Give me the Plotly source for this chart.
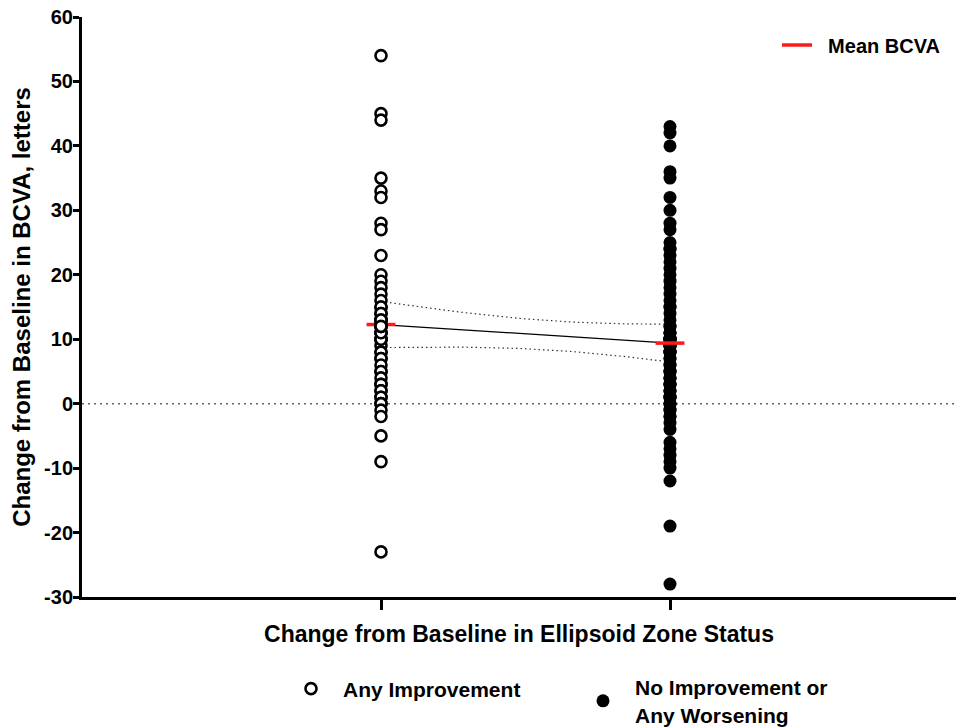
import numpy as np
import plotly.graph_objects as go

# ---------------- data ----------------
categories = ["Any Improvement", "No Improvement or<br>Any Worsening"]
cat_pos = [0, 1]

improve = [54, 45, 44, 35, 33, 32, 28, 27, 23, 20, 19, 18, 17, 16,
           15, 15, 14, 13, 12, 11, 11, 10, 10, 9, 8, 8, 7, 7, 6, 5, 5, 4,
           3, 3, 2, 2, 1, 1, 0, 0, -1, -2, -5, -9, -23,
           10, 11, 12, 12, 13, 13, 14, 13, 12]

no_improve = [43, 42, 40, 36, 35, 32, 30, 28, 27, 25, 24, 24, 23, 22, 21, 20,
              19, 18, 17, 16, 15, 15, 14, 13, 12, 12, 11, 11, 10, 10, 9, 9,
              8, 8, 7, 7, 6, 6, 5, 5, 5, 4, 4, 4, 3, 3, 3, 2, 2, 2, 1, 1, 1,
              0, 0, 0, -1, -1, -2, -2, -3, -4, -6, -7, -8, -9, -10,
              -12, -19, -28,
              8, 9, 9, 10, 10, 11, 8, 9, 10, 10]

y_ticks = [-30, -20, -10, 0, 10, 20, 30, 40, 50, 60]
y_tick_labels = ["-30", "-20", "-10", "0", "10", "20", "30", "40", "50", "60"]
y_range = [-30, 60]
x_range = [-1.0346, 1.9896]

x_title = "Change from Baseline in Ellipsoid Zone Status"
y_title = "Change from Baseline in BCVA, letters"
mean_label = "Mean BCVA"

FONT = "Liberation Sans, Arial, Helvetica, sans-serif"

# ---------------- statistics ----------------
groups = [np.array(improve, float), np.array(no_improve, float)]
means = [g.mean() for g in groups]

x_all = np.concatenate([np.full(len(g), p, float) for g, p in zip(groups, cat_pos)])
y_all = np.concatenate(groups)
slope, intercept = np.polyfit(x_all, y_all, 1)
resid = y_all - (intercept + slope * x_all)
df = len(y_all) - 2
s = np.sqrt((resid ** 2).sum() / df)
xbar = x_all.mean()
sxx = ((x_all - xbar) ** 2).sum()
z = 1.959964
t_crit = z + (z ** 3 + z) / (4 * df) + (5 * z ** 5 + 16 * z ** 3 + 3 * z) / (96 * df ** 2)
xs = np.linspace(cat_pos[0], cat_pos[1], 60)
fit = intercept + slope * xs
half = t_crit * s * np.sqrt(1.0 / len(y_all) + (xs - xbar) ** 2 / sxx)
upper = fit + half
lower = fit - half

mean_half_w = 0.05

fig = go.Figure()

# confidence band (dotted)
for band in (upper, lower):
    fig.add_trace(go.Scatter(x=xs, y=band, mode="lines",
                             line=dict(color="#333333", width=1.2, dash="1.5px,3px"),
                             showlegend=False, hoverinfo="skip"))

# line connecting means
fig.add_trace(go.Scatter(x=cat_pos, y=means, mode="lines",
                         line=dict(color="black", width=1.3),
                         showlegend=False, hoverinfo="skip"))

# left mean (under open circles)
fig.add_trace(go.Scatter(x=[cat_pos[0] - mean_half_w, cat_pos[0] + mean_half_w],
                         y=[means[0], means[0]], mode="lines",
                         line=dict(color="#FF1A1A", width=3.5),
                         name="\u00a0\u00a0" + mean_label, legend="legend2",
                         showlegend=True, hoverinfo="skip"))

# scatter columns
fig.add_trace(go.Scatter(x=[cat_pos[0]] * len(improve), y=improve, mode="markers",
                         marker=dict(symbol="circle", size=11, color="white",
                                     line=dict(color="black", width=2.6)),
                         name=categories[0], legend="legend"))
fig.add_trace(go.Scatter(x=[cat_pos[1]] * len(no_improve), y=no_improve, mode="markers",
                         marker=dict(symbol="circle", size=13, color="black",
                                     line=dict(color="black", width=0)),
                         name=categories[1], legend="legend3"))

# right mean (over filled circles)
fig.add_trace(go.Scatter(x=[cat_pos[1] - mean_half_w, cat_pos[1] + mean_half_w],
                         y=[means[1], means[1]], mode="lines",
                         line=dict(color="#FF1A1A", width=3.5),
                         showlegend=False, hoverinfo="skip"))

# zero reference line
fig.add_shape(type="line", xref="paper", x0=0, x1=1, yref="y", y0=0, y1=0,
              line=dict(color="#666666", width=1.5, dash="2px,4px"), layer="below")

legend_font = dict(family=FONT, size=21, color="black", weight=700)

fig.update_layout(
    template="none",
    width=956, height=727,
    margin=dict(l=82, r=0, t=17, b=130, pad=0, autoexpand=False),
    paper_bgcolor="white", plot_bgcolor="white",
    font=dict(family=FONT, color="black"),
    xaxis=dict(range=x_range, tickvals=cat_pos, showticklabels=False,
               ticks="outside", ticklen=10, tickwidth=3, tickcolor="black",
               showline=True, linewidth=3, linecolor="black",
               showgrid=False, zeroline=False, automargin=False,
               title=dict(text=x_title, standoff=17,
                          font=dict(family=FONT, size=23, color="black", weight=700))),
    yaxis=dict(range=y_range, tickvals=y_ticks, ticktext=y_tick_labels,
               ticks="outside", ticklen=6, ticklabelstandoff=-4,
               tickwidth=3, tickcolor="black", showline=True, linewidth=3,
               linecolor="black", showgrid=False, zeroline=False, automargin=False,
               tickfont=dict(family=FONT, size=20, color="black", weight=700),
               title=dict(text=y_title, standoff=7,
                          font=dict(family=FONT, size=24, color="black", weight=700))),
    legend=dict(x=(279 - 82) / 874, y=(597 - 689) / 580, xanchor="left", yanchor="middle",
                orientation="v", itemwidth=54, font=legend_font,
                bgcolor="rgba(0,0,0,0)", borderwidth=0),
    legend3=dict(x=(571 - 82) / 874, y=(597 - 701) / 580, xanchor="left", yanchor="middle",
                 orientation="v", itemwidth=54, font=legend_font,
                 bgcolor="rgba(0,0,0,0)", borderwidth=0),
    legend2=dict(x=(777 - 82) / 874, y=(597 - 45) / 580, xanchor="left", yanchor="middle",
                 orientation="v", itemwidth=30,
                 font=dict(family=FONT, size=20, color="black", weight=700),
                 bgcolor="rgba(0,0,0,0)", borderwidth=0),
    showlegend=True,
)

fig.write_html("out.html")
